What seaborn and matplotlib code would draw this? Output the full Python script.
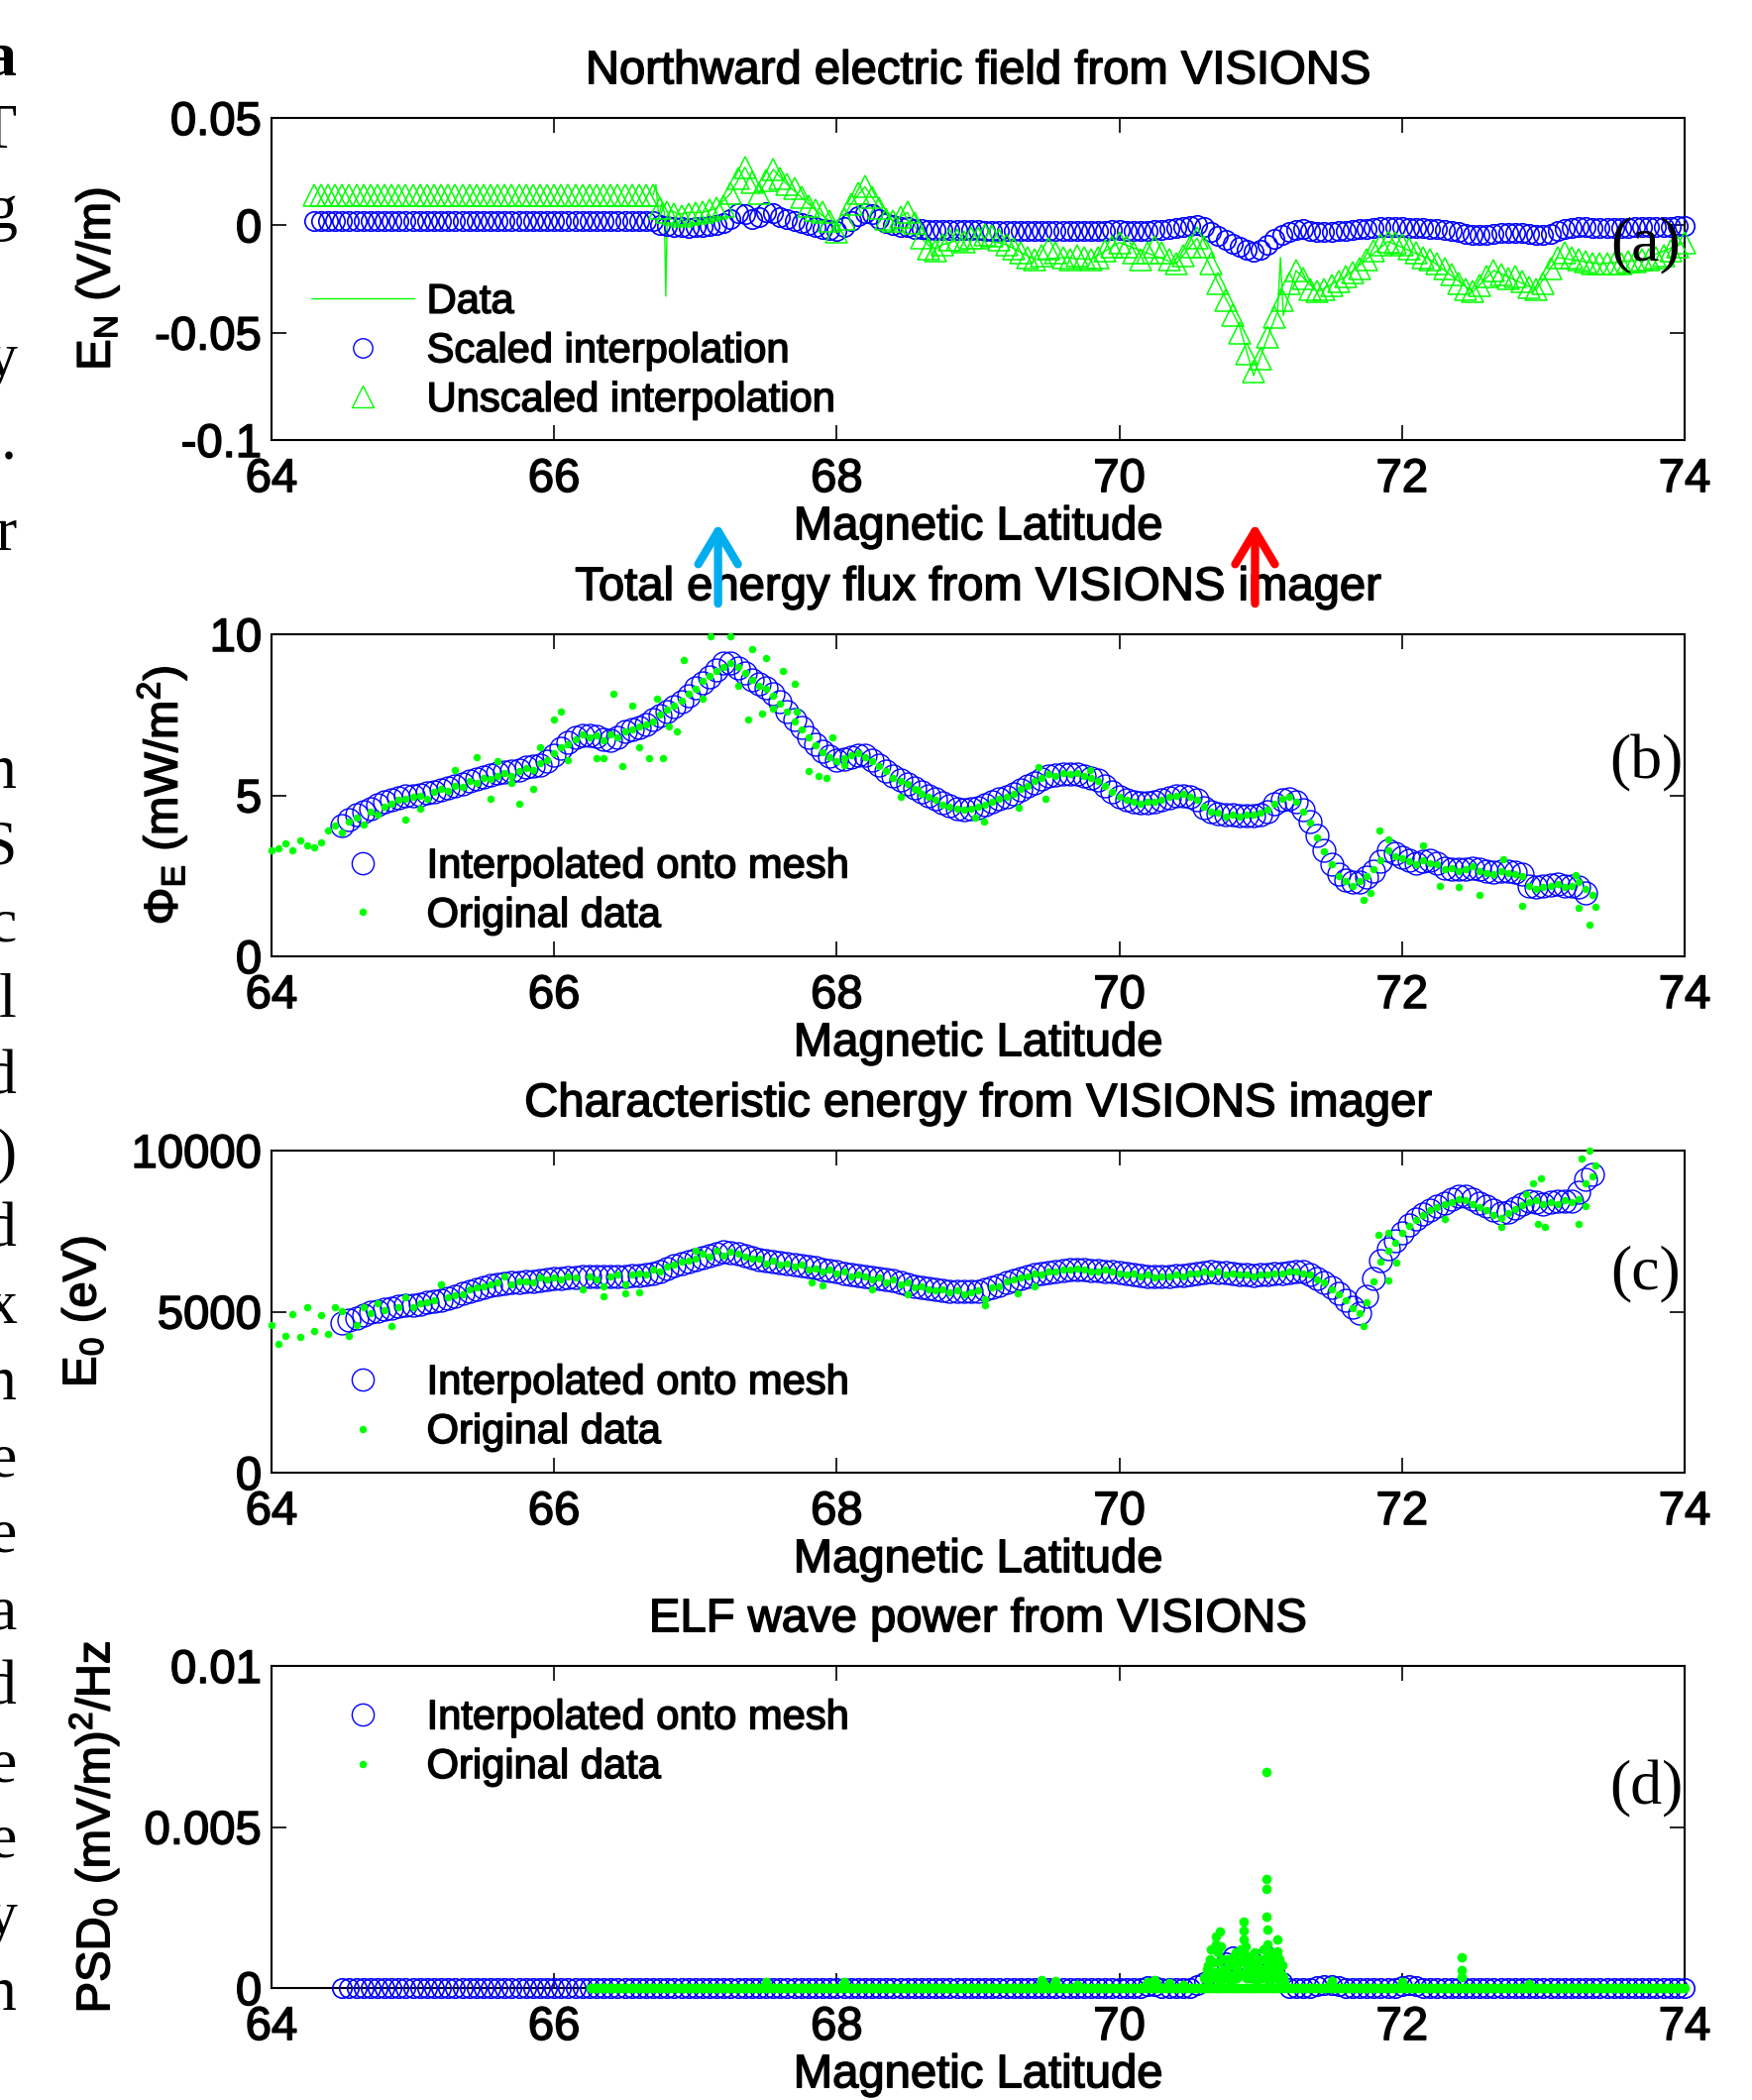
import numpy as np
import pandas as pd
import matplotlib
matplotlib.use("Agg")
import matplotlib.pyplot as plt
import matplotlib.patheffects as pe
import seaborn as sns
from matplotlib.lines import Line2D

# ======================= DATA =======================
XTICKS = [64, 66, 68, 70, 72, 74]

# ---- (a) Northward electric field, mesh 64.30 .. 74.00 step 0.05 (V/m)
EN_MESH_START, EN_MESH_STEP = 64.30, 0.05
EN_SCALED = ([0.002] * 49 +
    [0.000, -0.0005, -0.001, -0.001, -0.0012] +
    [-0.001, -0.0008, -0.0005, 0.000, 0.001, 0.003, 0.0055, 0.005, 0.003, 0.004,
     0.006, 0.0055, 0.004, 0.003, 0.002, 0.001, 0.000, -0.001, -0.0015, -0.002] +
    [-0.0025, -0.001, 0.002, 0.0045, 0.0055, 0.005, 0.003, 0.001, 0.000, -0.001,
     -0.001, -0.0015, -0.0018, -0.002, -0.002, -0.0022, -0.002, -0.002, -0.0021, -0.0022] +
    [-0.0023, -0.0024, -0.0024, -0.0025, -0.0026, -0.0027, -0.0028, -0.0028, -0.0028, -0.0027,
     -0.0026, -0.0026, -0.0027, -0.0028, -0.0028, -0.0027, -0.0026, -0.0025, -0.0024, -0.0023] +
    [-0.0023, -0.0024, -0.0025, -0.0025, -0.0024, -0.0022, -0.0020, -0.0016, -0.0012, -0.0006,
     -0.0002, 0.0000, -0.0008, -0.0030, -0.0050, -0.0068, -0.0085, -0.0100, -0.0115, -0.0125] +
    [-0.0115, -0.0090, -0.0065, -0.0045, -0.0030, -0.0020, -0.0018, -0.0025, -0.0030, -0.0032,
     -0.0030, -0.0028, -0.0025, -0.0022, -0.0018, -0.0015, -0.0012, -0.0010, -0.0008, -0.0008] +
    [-0.0010, -0.0012, -0.0013, -0.0014, -0.0015, -0.0017, -0.0020, -0.0024, -0.0030, -0.0038,
     -0.0043, -0.0045, -0.0044, -0.0040, -0.0036, -0.0034, -0.0034, -0.0036, -0.0040, -0.0043] +
    [-0.0044, -0.0038, -0.0028, -0.0018, -0.0012, -0.0010, -0.0010, -0.0011, -0.0012, -0.0012,
     -0.0012, -0.0012, -0.0011, -0.0010, -0.0010, -0.0010, -0.0009, -0.0008, -0.0006, -0.0004] +
    [-0.0002])
EN_UNSCALED = ([0.014] * 49 +
    [0.008, 0.006, 0.005, 0.0045, 0.005] +
    [0.0055, 0.006, 0.007, 0.008, 0.009, 0.015, 0.022, 0.027, 0.020, 0.015,
     0.021, 0.026, 0.022, 0.019, 0.017, 0.013, 0.009, 0.007, 0.006, 0.002] +
    [-0.003, 0.003, 0.010, 0.015, 0.018, 0.013, 0.008, 0.003, 0.002, 0.004,
     0.006, 0.001, -0.006, -0.011, -0.012, -0.009, -0.007, -0.007, -0.0075, -0.006] +
    [-0.006, -0.0045, -0.005, -0.007, -0.009, -0.011, -0.013, -0.015, -0.016, -0.014,
     -0.011, -0.013, -0.015, -0.016, -0.014, -0.015, -0.016, -0.015, -0.012, -0.010] +
    [-0.008, -0.010, -0.013, -0.016, -0.013, -0.010, -0.013, -0.016, -0.018, -0.014,
     -0.010, -0.006, -0.010, -0.018, -0.027, -0.035, -0.042, -0.050, -0.060, -0.068] +
    [-0.062, -0.052, -0.043, -0.035, -0.027, -0.021, -0.025, -0.030, -0.031, -0.030,
     -0.028, -0.026, -0.024, -0.022, -0.020, -0.016, -0.012, -0.009, -0.0075, -0.008] +
    [-0.009, -0.011, -0.013, -0.015, -0.016, -0.018, -0.020, -0.023, -0.027, -0.030,
     -0.031, -0.028, -0.024, -0.021, -0.023, -0.025, -0.024, -0.026, -0.029, -0.030] +
    [-0.027, -0.020, -0.015, -0.013, -0.015, -0.016, -0.017, -0.018, -0.018, -0.018,
     -0.018, -0.018, -0.017, -0.017, -0.016, -0.016, -0.015, -0.014, -0.012, -0.010] +
    [-0.008])
EN_DATA_LAT = [66.70, 66.72, 66.74, 66.76, 66.78, 66.79, 66.80, 66.83, 66.88, 66.95,
               67.05, 67.15, 67.25, 67.35, 67.45, 67.55, 67.65, 67.75, 67.85, 67.95,
               68.00, 68.10, 68.20, 68.30, 68.40, 68.50, 68.60, 68.66, 68.68, 68.70,
               68.75, 68.85, 69.00, 69.20, 69.40, 69.60, 69.80, 70.00, 70.20, 70.40,
               70.55, 70.70, 70.85, 70.95, 71.05, 71.12, 71.14, 71.16, 71.25, 71.40,
               71.60, 71.90, 72.20, 72.50, 72.65, 72.95, 73.10, 73.40, 73.70, 74.00]
EN_DATA = [0.014, 0.019, 0.004, 0.010, 0.006, -0.033, 0.004, 0.007, 0.005, 0.006,
           0.006, 0.008, 0.015, 0.027, 0.015, 0.026, 0.019, 0.013, 0.007, 0.002,
           -0.003, 0.010, 0.018, 0.008, 0.002, 0.006, -0.006, -0.010, -0.016, -0.011,
           -0.009, -0.007, -0.006, -0.009, -0.016, -0.015, -0.016, -0.008, -0.013, -0.018,
           -0.006, -0.027, -0.047, -0.070, -0.052, -0.040, -0.015, -0.042, -0.021, -0.031,
           -0.024, -0.0075, -0.016, -0.031, -0.021, -0.030, -0.015, -0.018, -0.016, -0.008]

# ---- (b) Total energy flux (mW/m^2)
PHI_MESH_START, PHI_MESH_STEP = 64.50, 0.05
PHI_MESH = (
    [4.07, 4.25, 4.4, 4.5, 4.6, 4.7, 4.8, 4.87, 4.92, 4.97] +
    [4.97, 5.02, 5.07, 5.12, 5.16, 5.22, 5.28, 5.35, 5.44, 5.5, 5.56, 5.62, 5.7, 5.72, 5.76, 5.8, 5.88, 5.9, 5.95, 6.05] +
    [6.26, 6.45, 6.65, 6.8, 6.85, 6.87, 6.82, 6.75, 6.7, 6.8, 6.98, 7.05, 7.1, 7.2, 7.35, 7.47, 7.6, 7.75, 7.9, 8.1] +
    [8.35, 8.5, 8.68, 8.9, 9.12, 9.1, 8.96, 8.8, 8.57, 8.45, 8.35, 8.15, 7.9, 7.6, 7.36, 7.1, 6.81, 6.6, 6.37, 6.22] +
    [6.1, 6.12, 6.2, 6.26, 6.26, 6.1, 5.93, 5.75, 5.6, 5.49, 5.35, 5.22, 5.1, 5.0, 4.88, 4.77, 4.67, 4.6, 4.56, 4.58] +
    [4.62, 4.7, 4.8, 4.88, 4.95, 5.05, 5.17, 5.28, 5.38, 5.5, 5.6, 5.63, 5.66, 5.67, 5.66, 5.6, 5.55, 5.49, 5.3, 5.1] +
    [4.95, 4.85, 4.8, 4.78, 4.78, 4.8, 4.85, 4.92, 5.0, 5.0, 4.95, 4.85, 4.62, 4.5, 4.42, 4.4, 4.4, 4.38, 4.38, 4.38] +
    [4.4, 4.5, 4.73, 4.85, 4.89, 4.8, 4.56, 4.2, 3.74, 3.3, 2.86, 2.55, 2.36, 2.3, 2.31, 2.45, 2.64, 2.95, 3.3, 3.2] +
    [3.08, 3.0, 2.9, 2.95, 3.0, 2.9, 2.75, 2.72, 2.7, 2.72, 2.75, 2.7, 2.64, 2.62, 2.64, 2.66, 2.62, 2.55, 2.2, 2.15] +
    [2.2, 2.22, 2.25, 2.2, 2.2, 2.15, 1.98])
PHI_DOT_START, PHI_DOT_STEP = 64.00, 0.05
PHI_DOTS = (
    [3.3, 3.35, 3.5, 3.3, 3.6, 3.45, 3.4, 3.55, 3.9, 4.05, 3.85, 4.2, 4.3, 4.1, 4.5, 4.4, 4.65, 4.75, 4.85, 4.9] +
    [4.95, 5.0, 4.9, 5.1, 5.2, 5.15, 5.3, 5.25, 5.45, 5.4, 5.55, 5.5, 5.6, 5.7, 5.6, 5.75, 5.85, 5.8, 6.0, 6.1] +
    [6.3, 6.5, 6.6, 6.75, 6.9, 6.8, 6.85, 6.7, 6.9, 6.8, 7.0, 7.05, 7.15, 7.2, 7.3, 7.5, 7.65, 7.8, 7.95, 8.15] +
    [8.3, 8.55, 8.7, 8.85, 9.0, 9.1, 9.0, 8.8, 8.6, 8.4, 8.3, 8.1, 7.85, 7.6, 7.3, 7.05, 6.8, 6.55, 6.35, 6.2] +
    [6.05, 6.15, 6.25, 6.3, 6.2, 6.05, 5.9, 5.75, 5.55, 5.45, 5.35, 5.2, 5.05, 4.95, 4.85, 4.7, 4.65, 4.6, 4.55, 4.6] +
    [4.65, 4.7, 4.8, 4.9, 4.95, 5.05, 5.2, 5.3, 5.45, 5.55, 5.65, 5.6, 5.7, 5.65, 5.7, 5.6, 5.55, 5.45, 5.3, 5.1] +
    [4.95, 4.85, 4.8, 4.75, 4.8, 4.8, 4.85, 4.95, 5.0, 5.05, 4.95, 4.85, 4.65, 4.5, 4.45, 4.35, 4.4, 4.35, 4.4, 4.4] +
    [4.45, 4.55, 4.75, 4.9, 4.95, 4.8, 4.5, 4.15, 3.7, 3.25, 2.85, 2.5, 2.35, 2.2, 2.35, 2.5, 2.7, 3.0, 3.3, 3.1] +
    [3.05, 2.95, 2.85, 3.0, 2.9, 2.85, 2.7, 2.75, 2.65, 2.7, 2.8, 2.65, 2.6, 2.55, 2.65, 2.6, 2.55, 2.5, 2.2, 2.1] +
    [2.15, 2.2, 2.25, 2.15, 2.2, 2.3, 2.1, 1.9])
PHI_OUT_LAT = [64.95, 65.05, 65.30, 65.45, 65.55, 65.60, 65.70, 65.75, 65.85, 65.90,
               66.00, 66.05, 66.10, 66.30, 66.35, 66.42, 66.48, 66.55, 66.60, 66.67,
               66.73, 66.77, 66.81, 66.87, 66.92, 67.05, 67.11, 67.25, 67.30, 67.37,
               67.40, 67.47, 67.50, 67.55, 67.62, 67.70, 67.72, 67.80, 67.87, 67.93,
               67.97, 68.05, 68.45, 68.57, 68.98, 69.04, 69.29, 69.43, 69.48, 69.79,
               71.73, 71.78, 71.84, 71.90, 72.15, 72.27, 72.40, 72.55, 72.72, 72.85,
               73.23, 73.25, 73.33, 73.37]
PHI_OUT = [4.25, 4.6, 5.8, 6.2, 4.9, 6.05, 5.38, 4.75, 5.2, 6.5,
           7.35, 7.6, 6.1, 6.15, 6.15, 8.15, 5.9, 7.8, 6.5, 6.15,
           8.0, 6.15, 7.15, 7.0, 9.2, 8.0, 9.95, 9.95, 8.4, 7.35,
           9.55, 7.55, 9.25, 7.7, 8.85, 8.45, 7.6, 5.75, 5.6, 5.55,
           6.8, 5.93, 4.95, 5.16, 4.3, 4.18, 4.62, 5.88, 4.89, 5.77,
           1.76, 1.98, 3.9, 3.63, 3.46, 2.2, 2.14, 1.92, 3.02, 1.56,
           2.53, 1.52, 0.99, 1.54]

# ---- (c) Characteristic energy (eV)
E0_MESH_START, E0_MESH_STEP = 64.50, 0.05
E0_MESH = (
    [4650, 4750, 4810, 4900, 4970, 5030, 5080, 5120, 5160, 5200] +
    [5200, 5240, 5280, 5320, 5360, 5420, 5490, 5560, 5640, 5700, 5760, 5810, 5860, 5880, 5900, 5920, 5930, 5950, 5980, 6000] +
    [6020, 6040, 6060, 6070, 6080, 6080, 6080, 6080, 6080, 6090, 6100, 6110, 6130, 6160, 6200, 6260, 6350, 6420, 6500, 6560] +
    [6630, 6690, 6750, 6800, 6850, 6830, 6790, 6740, 6680, 6630, 6580, 6550, 6520, 6490, 6460, 6430, 6410, 6360, 6320, 6280] +
    [6240, 6200, 6160, 6120, 6080, 6050, 6020, 5990, 5970, 5920, 5860, 5800, 5750, 5720, 5690, 5660, 5640, 5630, 5630, 5630] +
    [5640, 5680, 5740, 5810, 5900, 5970, 6040, 6100, 6150, 6190, 6230, 6260, 6280, 6300, 6300, 6300, 6290, 6270, 6260, 6250] +
    [6230, 6200, 6160, 6130, 6100, 6090, 6080, 6090, 6110, 6130, 6160, 6190, 6230, 6240, 6230, 6210, 6180, 6160, 6140, 6130] +
    [6140, 6160, 6180, 6200, 6220, 6240, 6240, 6150, 6020, 5900, 5750, 5560, 5360, 5150, 4950, 5470, 6020, 6600, 6960, 7200] +
    [7450, 7680, 7890, 8020, 8160, 8270, 8380, 8490, 8600, 8580, 8490, 8380, 8270, 8150, 8050, 8100, 8220, 8330, 8440, 8400] +
    [8330, 8400, 8440, 8440, 8440, 8710, 9100, 9260])
E0_DOT_START, E0_DOT_STEP = 64.00, 0.05
E0_DOTS = (
    [4590, 3990, 4250, 4920, 4210, 5140, 4400, 4900, 4300, 5140, 5030, 4250, 4600, 5140, 4950, 5250, 5050, 4540, 5150, 5450] +
    [5150, 5250, 5300, 5350, 5860, 5450, 5500, 5550, 5700, 5750, 5800, 5850, 5900, 6100, 5850, 5950, 5950, 5900, 6050, 6000] +
    [6050, 6000, 6100, 6050, 5700, 6100, 6000, 5800, 6100, 6150, 5850, 6150, 6200, 6150, 6300, 6250, 6400, 6450, 6550, 6600] +
    [6650, 6800, 6700, 6900, 6750, 6850, 6800, 6700, 6650, 6650, 6500, 6600, 6450, 6500, 6400, 6450, 6300, 6350, 6250, 6300] +
    [6200, 6250, 6100, 6150, 6100, 6000, 6050, 5900, 6000, 5850, 5900, 5750, 5800, 5700, 5650, 5700, 5600, 5650, 5550, 5600] +
    [5650, 5400, 5750, 5800, 5950, 6000, 6050, 6100, 6200, 6150, 6250, 6250, 6300, 6300, 6350, 6300, 6250, 6250, 6300, 6250] +
    [6200, 6150, 6200, 6100, 6150, 6050, 6100, 6100, 6150, 6100, 6200, 6200, 6250, 6200, 6250, 6150, 6200, 6150, 6150, 6100] +
    [6150, 6150, 6200, 6200, 6250, 6250, 6200, 6150, 6000, 5900, 5700, 5550, 5350, 5100, 4950, 5300, 5950, 6550, 6900, 7150] +
    [7450, 7650, 7850, 8000, 8150, 8250, 8350, 8400, 8500, 8450, 8350, 8250, 8150, 8000, 7900, 8050, 8200, 8300, 8400, 8450] +
    [8350, 8400, 8350, 8450, 8400, 8500, 9000, 9200])
E0_OUT_LAT = [65.20, 66.35, 66.50, 66.60, 67.00, 67.82, 67.90, 68.25, 68.50, 69.05,
              69.28, 69.40, 71.73, 71.83, 71.90, 71.90, 71.96, 72.30, 72.70, 72.88,
              72.93, 72.96, 72.98, 73.01, 73.25, 73.27, 73.30, 73.33, 73.37]
E0_OUT = [5860, 5470, 5580, 5600, 6900, 5910, 5820, 5690, 5530, 5200,
          5580, 5780, 4540, 7400, 7450, 5970, 6520, 7890, 7620, 8660,
          8990, 7730, 9150, 7620, 7730, 9760, 8270, 10000, 9540]

# ---- (d) ELF wave power ((mV/m)^2/Hz)
PSD_MESH_START, PSD_MESH_STEP = 64.50, 0.05
PSD_MESH = ([0.0] * 110 +
    [0.0, 0.0, 0.0, 0.0, 0.00005, 0.00005, 0.0, 0.0, 0.0, 0.0] +
    [0.0, 0.0001, 0.0002, 0.0003, 0.0005, 0.0008, 0.0010, 0.0009, 0.0007, 0.0008] +
    [0.0009, 0.0010, 0.0006, 0.0002, 0.0] +
    [0.0] * 3 + [0.00005, 0.0001, 0.0001, 0.00005] + [0.0] * 8 +
    [0.00005, 0.0001, 0.00005] + [0.0] * 38)
PSD_BASE_START, PSD_BASE_STEP = 66.26, 0.02
PSD_BASE = [0.0] * 388
PSD_SPIKE_LAT = [67.50, 68.05, 69.45, 69.55, 69.70, 70.20, 70.25, 70.35, 70.45, 70.60,
                 70.62, 70.63, 70.64, 70.65, 70.66, 70.67, 70.68, 70.68, 70.70, 70.71,
                 70.71, 70.72, 70.74, 70.75, 70.76, 70.78, 70.79, 70.80, 70.82, 70.83,
                 70.84, 70.86, 70.87, 70.88, 70.88, 70.88, 70.89, 70.90, 70.92, 70.93,
                 70.94, 70.96, 70.97, 70.98, 71.00, 71.01, 71.02, 71.03, 71.04, 71.04,
                 71.04, 71.04, 71.05, 71.05, 71.05, 71.06, 71.07, 71.09, 71.10, 71.11,
                 71.12, 71.12, 71.12, 71.13, 71.14, 71.15, 71.17, 71.50, 72.00, 72.42,
                 72.42, 72.42, 72.90,
                 70.61, 70.63, 70.65, 70.67, 70.69, 70.70, 70.72, 70.73, 70.75, 70.77,
                 70.78, 70.80, 70.81, 70.83, 70.85, 70.86, 70.88, 70.90, 70.91, 70.93,
                 70.95, 70.96, 70.98, 70.99, 71.01, 71.03, 71.05, 71.06, 71.08, 71.10,
                 71.11, 71.13, 71.15, 71.16, 69.44, 69.46, 69.54, 70.19, 70.26, 71.49]
PSD_SPIKE = [0.0002, 0.0002, 0.00025, 0.00022, 0.0001, 0.0002, 0.00025, 0.00015, 0.0001, 0.0003,
             0.0006, 0.0002, 0.0009, 0.0012, 0.0005, 0.0003, 0.0016, 0.00136, 0.0008, 0.00176,
             0.0002, 0.0013, 0.0006, 0.0003, 0.0009, 0.0004, 0.0002, 0.0007, 0.0011, 0.0003,
             0.0005, 0.0012, 0.0009, 0.00207, 0.0018, 0.0015, 0.0013, 0.0006, 0.0010, 0.0003,
             0.0004, 0.0008, 0.0002, 0.0005, 0.0009, 0.0003, 0.0012, 0.0006, 0.0067, 0.0034,
             0.00308, 0.00222, 0.00182, 0.00136, 0.0010, 0.0002, 0.0005, 0.0008, 0.0003, 0.0006,
             0.0015, 0.00115, 0.0010, 0.0009, 0.0002, 0.0004, 0.0002, 0.00022, 0.0002, 0.00094,
             0.00055, 0.00033, 0.00012,
             0.0004, 0.0007, 0.0003, 0.0008, 0.0005, 0.0011, 0.0004, 0.0009, 0.0006, 0.0003,
             0.0007, 0.0004, 0.0010, 0.0006, 0.0008, 0.0004, 0.0011, 0.0003, 0.0008, 0.0006,
             0.0004, 0.0011, 0.0007, 0.0003, 0.0006, 0.0009, 0.0004, 0.0007, 0.0011, 0.0004,
             0.0009, 0.0005, 0.0007, 0.0003, 0.00012, 0.00015, 0.00012, 0.00012, 0.00015, 0.0001]

# arrows marking latitudes
ARROW_LATS = [67.16, 70.96]
ARROW_COLORS = ["#00aeef", "#ff0000"]

# cropped page text at the left margin: (char, y pixel, weight)
MARGIN_TEXT = [("a", 61, "bold"), ("T", 135, "normal"), ("g", 216, "normal"), ("y", 365, "normal"),
               (".", 460, "normal"), ("r", 541, "normal"), ("n", 781, "normal"), ("S", 858, "normal"),
               ("c", 935, "normal"), ("l", 1012, "normal"), ("d", 1090, "normal"), (")", 1167, "normal"),
               ("d", 1244, "normal"), ("x", 1321, "normal"), ("n", 1398, "normal"), ("e", 1475, "normal"),
               ("e", 1552, "normal"), ("a", 1629, "normal"), ("d", 1706, "normal"), ("e", 1783, "normal"),
               ("e", 1860, "normal"), ("y", 1937, "normal"), ("n", 2014, "normal")]


def mesh(start, step, vals):
    return np.round(start + step * np.arange(len(vals)), 3)


assert len(EN_SCALED) == 195 and len(EN_UNSCALED) == 195, (len(EN_SCALED), len(EN_UNSCALED))
assert len(EN_DATA_LAT) == len(EN_DATA)
assert len(PHI_MESH) == 177, len(PHI_MESH)
assert len(PHI_DOTS) == 188, len(PHI_DOTS)
assert len(PHI_OUT_LAT) == len(PHI_OUT)
assert len(E0_MESH) == 178, len(E0_MESH)
assert len(E0_DOTS) == 188, len(E0_DOTS)
assert len(E0_OUT_LAT) == len(E0_OUT)
assert len(PSD_MESH) == 191, len(PSD_MESH)
assert len(PSD_SPIKE_LAT) == len(PSD_SPIKE), (len(PSD_SPIKE_LAT), len(PSD_SPIKE))

# ======================= STYLE =======================
sns.set_theme(style="white")
plt.rcParams.update({
    "font.family": ["Liberation Sans", "DejaVu Sans"],
    "mathtext.fontset": "custom",
    "mathtext.rm": "Liberation Sans",
    "mathtext.it": "Liberation Sans:italic",
    "mathtext.bf": "Liberation Sans:bold",
    "mathtext.default": "regular",
    "axes.unicode_minus": False,
    "axes.edgecolor": "black",
    "axes.labelcolor": "black",
    "text.color": "black",
    "xtick.color": "black",
    "ytick.color": "black",
    "axes.facecolor": "white",
})

BLUE = "#0000ff"
GREEN = "#00ff00"
FS = 34
LEG_FS = 30
HEAVY = [pe.withStroke(linewidth=1.1, foreground="black")]

W, H = 1768, 2119
fig = plt.figure(figsize=(W / 100, H / 100), dpi=100)
LEFT, WIDTH, HEIGHT = 274 / W, 1426 / W, 325 / H
bottoms = [1 - 444 / H, 1 - 965 / H, 1 - 1486 / H, 1 - 2006 / H]
axes = [fig.add_axes([LEFT, b, WIDTH, HEIGHT]) for b in bottoms]


def open_markers(ax, x, y, marker, ms, color, mew=1.0):
    sns.lineplot(x=x, y=y, ax=ax, estimator=None, sort=False, linestyle="none",
                 marker=marker, markersize=ms, markerfacecolor="none",
                 markeredgecolor=color, markeredgewidth=mew, color=color,
                 legend=False, clip_on=False, zorder=3)


def dots(ax, x, y, ms=5.4):
    sns.lineplot(x=x, y=y, ax=ax, estimator=None, sort=False, linestyle="none",
                 marker="o", markersize=ms, markerfacecolor=GREEN,
                 markeredgewidth=0, color=GREEN, legend=False, clip_on=False, zorder=4)


def style(ax, ylim, yticks, yticklabels, title, ylabel, label_x, tag, tag_y):
    ax.set_xlim(64, 74)
    ax.set_ylim(*ylim)
    ax.set_xticks(XTICKS)
    ax.set_xticklabels([str(v) for v in XTICKS])
    ax.set_yticks(yticks)
    ax.set_yticklabels(yticklabels)
    ax.tick_params(direction="in", length=11, width=1.2, top=True, right=True,
                   labelsize=FS, bottom=True, left=True)
    ax.tick_params(axis="x", pad=13)
    ax.tick_params(axis="y", pad=7)
    t = ax.set_title(title, fontsize=FS, pad=25)
    t.set_path_effects(HEAVY)
    xl = ax.set_xlabel("Magnetic Latitude", fontsize=FS, labelpad=3)
    xl.set_path_effects(HEAVY)
    yl = ax.set_ylabel(ylabel, fontsize=FS)
    yl.set_path_effects(HEAVY)
    ax.yaxis.set_label_coords(label_x, 0.5)
    for lab in ax.get_xticklabels() + ax.get_yticklabels():
        lab.set_path_effects(HEAVY)
    for s in ax.spines.values():
        s.set_linewidth(1.5)
        s.set_color("black")
        s.set_zorder(2.5)
    ax.text(0.9726, tag_y, tag, transform=ax.transAxes, family="Liberation Serif",
            fontsize=46, ha="center", va="center", zorder=6)


def legend(ax, handles, labels, top):
    leg = ax.legend(handles, labels, loc="upper left", bbox_to_anchor=(0.028, top),
                    frameon=False, fontsize=LEG_FS, handlelength=2.5, handletextpad=0.3,
                    labelspacing=0.23, borderpad=0, borderaxespad=0)
    for t in leg.get_texts():
        t.set_path_effects(HEAVY)


# ---- (a)
ax = axes[0]
sns.lineplot(x=EN_DATA_LAT, y=EN_DATA, ax=ax, estimator=None, sort=False,
             color=GREEN, linewidth=1.0, legend=False, zorder=2)
lat_a = mesh(EN_MESH_START, EN_MESH_STEP, EN_SCALED)
open_markers(ax, lat_a, EN_SCALED, "o", 14, BLUE, mew=1.2)
open_markers(ax, lat_a, EN_UNSCALED, "^", 16, GREEN, mew=1.1)
style(ax, (-0.1, 0.05), [-0.1, -0.05, 0, 0.05], ["-0.1", "-0.05", "0", "0.05"],
      "Northward electric field from VISIONS", r"E$_{N}$ (V/m)", -0.106, "(a)", 0.605)
legend(ax, [Line2D([], [], color=GREEN, lw=1.0),
            Line2D([], [], ls="none", marker="o", ms=14, mfc="none", mec=BLUE, mew=1.0),
            Line2D([], [], ls="none", marker="^", ms=16, mfc="none", mec=GREEN, mew=1.0)],
       ["Data", "Scaled interpolation", "Unscaled interpolation"], 0.49)

# ---- (b)
ax = axes[1]
open_markers(ax, mesh(PHI_MESH_START, PHI_MESH_STEP, PHI_MESH), PHI_MESH, "o", 16.5, BLUE)
dots(ax, np.concatenate([mesh(PHI_DOT_START, PHI_DOT_STEP, PHI_DOTS), PHI_OUT_LAT]),
     np.concatenate([PHI_DOTS, PHI_OUT]))
style(ax, (0, 10), [0, 5, 10], ["0", "5", "10"],
      "Total energy flux from VISIONS imager", r"$\Phi_{E}$ (mW/m$^{2}$)", -0.058, "(b)", 0.60)

mesh_handle = Line2D([], [], ls="none", marker="o", ms=16, mfc="none", mec=BLUE, mew=1.0)
dot_handle = Line2D([], [], ls="none", marker="o", ms=5.4, mfc=GREEN, mec=GREEN, mew=0)
legend(ax, [mesh_handle, dot_handle], ["Interpolated onto mesh", "Original data"], 0.34)

# ---- (c)
ax = axes[2]
open_markers(ax, mesh(E0_MESH_START, E0_MESH_STEP, E0_MESH), E0_MESH, "o", 16.5, BLUE)
dots(ax, np.concatenate([mesh(E0_DOT_START, E0_DOT_STEP, E0_DOTS), E0_OUT_LAT]),
     np.concatenate([E0_DOTS, E0_OUT]))
style(ax, (0, 10000), [0, 5000, 10000], ["0", "5000", "10000"],
      "Characteristic energy from VISIONS imager", r"E$_{0}$ (eV)", -0.116, "(c)", 0.617)
legend(ax, [mesh_handle, dot_handle], ["Interpolated onto mesh", "Original data"], 0.34)

# ---- (d)
ax = axes[3]
open_markers(ax, mesh(PSD_MESH_START, PSD_MESH_STEP, PSD_MESH), PSD_MESH, "o", 14, BLUE, mew=1.2)
dots(ax, np.concatenate([mesh(PSD_BASE_START, PSD_BASE_STEP, PSD_BASE), PSD_SPIKE_LAT]),
     np.concatenate([PSD_BASE, PSD_SPIKE]), ms=7)
style(ax, (0, 0.01), [0, 0.005, 0.01], ["0", "0.005", "0.01"],
      "ELF wave power from VISIONS", r"PSD$_{0}$ (mV/m)$^{2}$/Hz", -0.106, "(d)", 0.617)
legend(ax, [mesh_handle, dot_handle], ["Interpolated onto mesh", "Original data"], 0.90)

# ---- arrows between (a) and (b)
axb = axes[1]
for lat, col in zip(ARROW_LATS, ARROW_COLORS):
    axb.annotate("", xy=(lat, 13.45), xytext=(lat, 10.95), xycoords="data",
                 arrowprops=dict(arrowstyle="->,head_length=0.6,head_width=0.36",
                                 lw=6, color=col, mutation_scale=40,
                                 shrinkA=0, shrinkB=0),
                 annotation_clip=False, zorder=20)

# ---- cropped page text on the left margin
for ch, ypix, wt in MARGIN_TEXT:
    off = 4 if ch == "." else 14
    fig.text(17 / W, 1 - (ypix + off) / H, ch, family="Liberation Serif", fontsize=46,
             fontweight=wt, ha="right", va="baseline")

fig.savefig("out.png", dpi=100, facecolor="white")
